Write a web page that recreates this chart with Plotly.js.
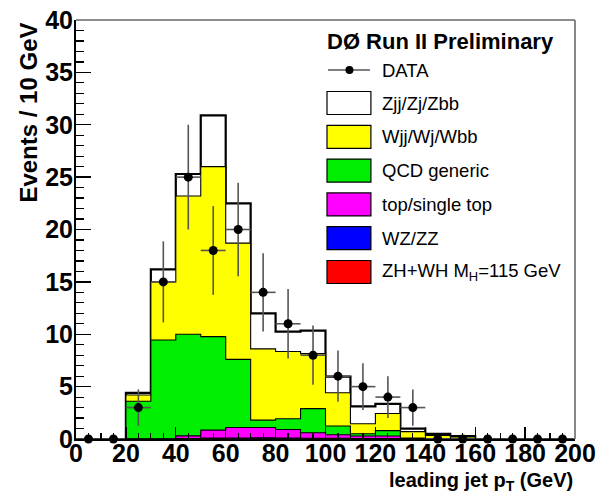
<!DOCTYPE html>
<html><head><meta charset="utf-8">
<script src="https://cdn.plot.ly/plotly-3.0.1.min.js"></script>
<style>body{margin:0;background:#fff}#chart{width:596px;height:494px}</style>
</head><body><div id="chart"></div><script>
// ---- data (bin low edges, 10 GeV bins) ----
const binLow = [0,10,20,30,40,50,60,70,80,90,100,110,120,130,140,150,160,170,180,190];
const binWidth = 10;
const dataCounts = [0,0,3,15,25,18,20,14,11,8,6,5,4,3,0,0,0,0,0,0];
const dataErr    = [0,0,1.73,3.87,5,4.24,4.47,3.74,3.32,2.83,2.45,2.24,2,1.73,0,0,0,0,0,0];
const zhwh  = [0,0,0,0,0.01,0.02,0.02,0.03,0.03,0.02,0.02,0.01,0.01,0,0,0,0,0,0,0];
const wzzz  = [0,0,0,0,0.04,0.06,0.08,0.08,0.07,0.05,0.04,0.03,0.03,0,0,0,0,0,0,0];
const topSingle = [0,0,0,0,0.25,0.77,1.0,0.99,0.8,0.53,0.34,0.24,0.24,0.05,0,0,0,0,0,0];
const qcd   = [0,0,3.6,9.45,9.7,8.92,6.5,0.7,1.04,2.3,0.84,0.22,0.52,0.05,0.02,0,0,0,0,0];
const wjets = [0,0,0.6,5.55,13.2,16.23,11.1,6.8,6.41,5.25,3.18,0.95,1.63,0.6,0.33,0.2,0,0,0,0];
const zjets = [0,0,0.2,1.2,2.1,4.9,3.8,3.4,1.9,2.2,1.53,1.67,0.92,0.3,0.13,0.08,0,0,0,0];

const seriesNames = ["ZH+WH M<sub>H</sub>=115 GeV","WZ/ZZ","top/single top","QCD generic","Wjj/Wj/Wbb","Zjj/Zj/Zbb"];
const seriesColors = ["#ff0000","#0000ff","#ff00ff","#00ee00","#ffff00","#ffffff"];
const seriesVals = [zhwh, wzzz, topSingle, qcd, wjets, zjets];

// ---- stack ----
const cum = [];
let run = binLow.map(() => 0);
seriesVals.forEach(s => { run = run.map((v,i) => v + s[i]); cum.push(run.slice()); });
const edges = binLow.concat([binLow[binLow.length-1] + binWidth]);
function stepY(arr){ return arr.concat([arr[arr.length-1]]); }

const traces = [];
for (let k = seriesVals.length - 1; k >= 0; k--) {
  traces.push({
    type: 'scatter', mode: 'lines', x: edges, y: stepY(cum[k]),
    line: {shape: 'hv', color: '#000', width: k === seriesVals.length - 1 ? 2.2 : 1.1},
    fill: 'tozeroy', fillcolor: seriesColors[k], hoverinfo: 'skip', showlegend: false
  });
}
traces.push({
  type: 'scatter', mode: 'markers',
  x: binLow.map(b => b + binWidth/2), y: dataCounts,
  marker: {color: '#000', size: 9},
  error_y: {type: 'data', array: dataErr, visible: true, width: 0, color: '#555', thickness: 1.6},
  error_x: {type: 'constant', value: binWidth/2, visible: true, width: 0, color: '#555', thickness: 1.6},
  showlegend: false, cliponaxis: false
});

// ---- layout helpers (plot area in pixels) ----
const L = 75.5, R = 575.5, T = 20, B = 439;
const px = x => (x - L) / (R - L);
const py = y => (B - y) / (B - T);

const legendItems = [
  {label: "Zjj/Zj/Zbb", color: seriesColors[5]},
  {label: "Wjj/Wj/Wbb", color: seriesColors[4]},
  {label: "QCD generic", color: seriesColors[3]},
  {label: "top/single top", color: seriesColors[2]},
  {label: "WZ/ZZ", color: seriesColors[1]},
  {label: "ZH+WH M<sub>H</sub>=115 GeV", color: seriesColors[0]}
];
const shapes = [
  {type:'line', xref:'paper', yref:'paper', x0:0, x1:1, y0:1, y1:1, line:{color:'#666', width:1.5}},
  {type:'line', xref:'paper', yref:'paper', x0:1, x1:1, y0:0, y1:1, line:{color:'#888', width:2}},
  {type:'line', xref:'paper', yref:'paper', x0:px(328), x1:px(370), y0:py(70), y1:py(70), line:{color:'#000', width:1.2}},
  {type:'circle', xref:'paper', yref:'paper', x0:px(345.5), x1:px(353.5), y0:py(74), y1:py(66), fillcolor:'#000', line:{color:'#000', width:0}}
];
const annotations = [
  {text:'<b>DØ Run II Preliminary</b>', xref:'paper', yref:'paper', x:px(556), y:py(42), xanchor:'right', yanchor:'middle', showarrow:false, font:{family:'Liberation Sans, Arial', size:22, color:'#000'}},
  {text:'DATA', xref:'paper', yref:'paper', x:px(380), y:py(70), xanchor:'left', yanchor:'middle', showarrow:false, font:{family:'Liberation Sans, Arial', size:18.5, color:'#000'}},
  {text:'<b>leading jet p<sub>T</sub> (GeV)</b>', xref:'paper', yref:'paper', x:px(576), y:py(481), xanchor:'right', yanchor:'middle', showarrow:false, font:{family:'Liberation Sans, Arial', size:20, color:'#000'}},
  {text:'<b>Events / 10 GeV</b>', xref:'paper', yref:'paper', x:px(28), y:py(113), xanchor:'center', yanchor:'middle', textangle:-90, showarrow:false, font:{family:'Liberation Sans, Arial', size:24, color:'#000'}}
];
legendItems.forEach((it, i) => {
  const cy = 103 + i * 33.8;
  shapes.push({type:'rect', xref:'paper', yref:'paper', x0:px(327), x1:px(371), y0:py(cy+11.5), y1:py(cy-11.5), fillcolor:it.color, line:{color:'#000', width:1.2}});
  annotations.push({text:it.label, xref:'paper', yref:'paper', x:px(380), y:py(cy), xanchor:'left', yanchor:'middle', showarrow:false, font:{family:'Liberation Sans, Arial', size:18.5, color:'#000'}});
});

const tickFont = {family:'Liberation Sans, Arial', size:25, color:'#000', weight:'bold'};
const layout = {
  width: 596, height: 494,
  margin: {l: L, r: 596 - R, t: T, b: 494 - B, pad: 0},
  paper_bgcolor: '#fff', plot_bgcolor: '#fff',
  showlegend: false,
  xaxis: {range:[0,200], dtick:20, tick0:0, ticks:'inside', ticklen:12, tickwidth:1.3, tickcolor:'#000',
          minor:{dtick:5, ticks:'inside', ticklen:6, tickwidth:1.2, tickcolor:'#000'},
          showline:true, linecolor:'#000', linewidth:2, showgrid:false, zeroline:false,
          tickfont: tickFont, ticklabelstandoff: -9, fixedrange:true},
  yaxis: {range:[0,40], dtick:5, tick0:0, ticks:'inside', ticklen:15, tickwidth:1.3, tickcolor:'#000',
          minor:{dtick:1, ticks:'inside', ticklen:8, tickwidth:1.2, tickcolor:'#000'},
          showline:true, linecolor:'#000', linewidth:2, showgrid:false, zeroline:false,
          tickfont: tickFont, ticklabelstandoff: -4, fixedrange:true},
  shapes: shapes,
  annotations: annotations
};
Plotly.newPlot('chart', traces, layout, {staticPlot: true, displayModeBar: false});
</script></body></html>
